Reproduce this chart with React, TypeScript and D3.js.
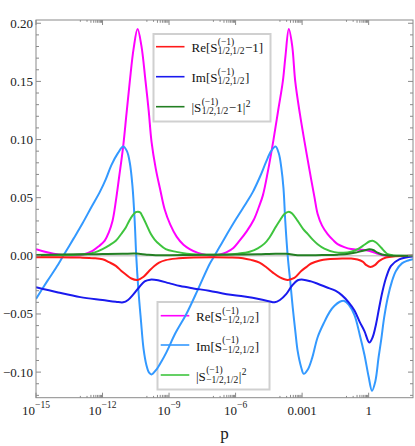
import React, { useRef, useEffect } from "react";
import * as d3 from "d3";

type Pt = [number, number]; // [log10 p, value]

// Re[S(-1)_{-1/2,1/2}]  (magenta)
const reMinus: Pt[] = [
  [-15, 0.0058], [-14.6, 0.0035], [-14.2, 0.0018], [-13.8, 0.0007], [-13.35, 0.0003],
  [-12.9, 0.001], [-12.45, 0.0043], [-12.15, 0.0085], [-11.9, 0.013], [-11.72, 0.02],
  [-11.55, 0.03], [-11.4, 0.047], [-11.25, 0.068], [-11.07, 0.094], [-10.92, 0.122],
  [-10.77, 0.15], [-10.6, 0.178], [-10.42, 0.195], [-10.25, 0.181], [-10.06, 0.15],
  [-9.92, 0.125], [-9.79, 0.098], [-9.6, 0.075], [-9.4, 0.057], [-9.2, 0.04],
  [-8.95, 0.027], [-8.66, 0.0165], [-8.35, 0.0095], [-8.07, 0.0058], [-7.7, 0.0025],
  [-7.32, 0.0008], [-7.03, 0.0002], [-6.7, 0.0012], [-6.42, 0.003], [-6.1, 0.0068],
  [-5.82, 0.013], [-5.5, 0.021], [-5.18, 0.031], [-4.95, 0.042], [-4.77, 0.052],
  [-4.55, 0.072], [-4.29, 0.1], [-4.08, 0.125], [-3.87, 0.15], [-3.75, 0.172],
  [-3.6, 0.195], [-3.45, 0.181], [-3.31, 0.15], [-3.1, 0.122], [-2.89, 0.098],
  [-2.66, 0.073], [-2.44, 0.05], [-2.3, 0.036], [-2.1, 0.026], [-1.85, 0.0187],
  [-1.6, 0.0135], [-1.4, 0.0101], [-1.1, 0.0075], [-0.79, 0.0058], [-0.45, 0.0052],
  [-0.19, 0.005], [0.05, 0.0042], [0.3, 0.0025], [0.6, 0.0008], [0.9, 0.0],
  [1.3, -0.0002], [2, 0.0],
];

// Im[S(-1)_{-1/2,1/2}]  (light blue)
const imMinus: Pt[] = [
  [-15, -0.037], [-14.5, -0.022], [-14, -0.0075], [-13.77, 0.0], [-13.3, 0.015],
  [-12.9, 0.028], [-12.5, 0.042], [-12.12, 0.055], [-11.85, 0.066], [-11.6, 0.078],
  [-11.3, 0.0885], [-11.07, 0.094], [-10.9, 0.09], [-10.77, 0.08], [-10.65, 0.06],
  [-10.55, 0.03], [-10.48, 0.0], [-10.38, -0.03], [-10.27, -0.055], [-10.15, -0.08],
  [-10.02, -0.094], [-9.9, -0.1005], [-9.79, -0.102], [-9.6, -0.0985], [-9.35, -0.091],
  [-9.12, -0.083], [-8.7, -0.066], [-8.22, -0.05], [-7.7, -0.029], [-7.17, -0.007],
  [-6.95, 0.0], [-6.5, 0.015], [-6.0, 0.031], [-5.5, 0.046], [-5.22, 0.055],
  [-4.9, 0.068], [-4.62, 0.081], [-4.4, 0.09], [-4.2, 0.094], [-4.05, 0.088],
  [-3.94, 0.076], [-3.84, 0.058], [-3.76, 0.03], [-3.65, 0.0], [-3.52, -0.025],
  [-3.42, -0.045], [-3.3, -0.066], [-3.2, -0.082], [-3.04, -0.096], [-2.93, -0.1015],
  [-2.75, -0.098], [-2.55, -0.088], [-2.3, -0.07], [-2.0, -0.057], [-1.75, -0.048],
  [-1.54, -0.043], [-1.3, -0.0395], [-1.1, -0.0388], [-0.9, -0.042], [-0.64, -0.051],
  [-0.4, -0.068], [-0.19, -0.085], [0.0, -0.104], [0.15, -0.116], [0.3, -0.108],
  [0.45, -0.087], [0.56, -0.073], [0.7, -0.053], [0.86, -0.036], [1.05, -0.022],
  [1.23, -0.013], [1.5, -0.0065], [1.75, -0.0042], [2, -0.003],
];

// |S(-1)_{-1/2,1/2}|^2  (light green)
const absMinus: Pt[] = [
  [-15, 0.0003], [-14, 0.0004], [-13.3, 0.0008], [-12.75, 0.0014], [-12.35, 0.003],
  [-12.0, 0.0058], [-11.7, 0.009], [-11.4, 0.013], [-11.15, 0.019], [-10.95, 0.0244],
  [-10.8, 0.03], [-10.65, 0.0345], [-10.5, 0.0375], [-10.4, 0.038], [-10.3, 0.0372],
  [-10.2, 0.034], [-10.0, 0.026], [-9.82, 0.0187], [-9.65, 0.014], [-9.45, 0.0101],
  [-9.15, 0.0058], [-8.67, 0.0034], [-8.2, 0.0018], [-7.62, 0.001], [-6.9, 0.0009],
  [-6.42, 0.001], [-5.9, 0.0018], [-5.37, 0.0035], [-5.0, 0.0065], [-4.7, 0.0105],
  [-4.47, 0.0158], [-4.2, 0.0245], [-4.02, 0.03], [-3.8, 0.036], [-3.6, 0.038],
  [-3.45, 0.0365], [-3.2, 0.03], [-2.95, 0.023], [-2.74, 0.0187], [-2.5, 0.0135],
  [-2.3, 0.01], [-2.0, 0.0062], [-1.54, 0.0032], [-1.15, 0.0026], [-0.79, 0.0035],
  [-0.45, 0.0062], [-0.19, 0.0095], [0.05, 0.0125], [0.18, 0.0129], [0.35, 0.0112],
  [0.56, 0.0072], [0.72, 0.0038], [0.86, 0.0015], [1.1, 0.0004], [1.5, 0.0], [2, 0.0],
];

// Re[S(-1)_{1/2,1/2} - 1]  (red)
const rePlus: Pt[] = [
  [-15, -0.0012], [-14, -0.0012], [-13, -0.0015], [-12.4, -0.002], [-12.0, -0.003],
  [-11.7, -0.0055], [-11.4, -0.0086], [-11.15, -0.013], [-10.95, -0.016], [-10.7, -0.0195],
  [-10.42, -0.0207], [-10.15, -0.018], [-9.9, -0.013], [-9.65, -0.0085], [-9.45, -0.0058],
  [-9.15, -0.0037], [-8.7, -0.0024], [-7.9, -0.0015], [-7.0, -0.0012], [-6.3, -0.0014],
  [-5.67, -0.002], [-5.3, -0.0035], [-4.92, -0.0058], [-4.6, -0.01], [-4.32, -0.0144],
  [-4.0, -0.0185], [-3.65, -0.0207], [-3.35, -0.019], [-3.04, -0.013], [-2.8, -0.0095],
  [-2.59, -0.0066], [-2.2, -0.004], [-1.85, -0.0029], [-1.2, -0.0023], [-0.79, -0.0023],
  [-0.5, -0.0032], [-0.27, -0.005], [-0.1, -0.008], [0.08, -0.0095], [0.28, -0.008],
  [0.48, -0.0043], [0.78, -0.0014], [1.2, -0.0004], [2, 0.0],
];

// Im[S(-1)_{1/2,1/2}]  (blue)
const imPlus: Pt[] = [
  [-15, -0.027], [-14, -0.0315], [-13, -0.0355], [-12, -0.038], [-11.4, -0.0395],
  [-11.07, -0.04], [-10.85, -0.038], [-10.6, -0.033], [-10.35, -0.027], [-10.1, -0.022],
  [-9.85, -0.0205], [-9.5, -0.021], [-9.0, -0.0235], [-8.5, -0.026], [-7.9, -0.028],
  [-7.2, -0.03], [-6.4, -0.033], [-5.6, -0.035], [-4.9, -0.0373], [-4.5, -0.039],
  [-4.24, -0.04], [-4.0, -0.038], [-3.72, -0.033], [-3.45, -0.0255], [-3.2, -0.021],
  [-2.95, -0.0205], [-2.6, -0.022], [-2.3, -0.024], [-1.9, -0.027], [-1.5, -0.03],
  [-1.2, -0.034], [-0.9, -0.04], [-0.64, -0.047], [-0.4, -0.057], [-0.19, -0.0647],
  [0.03, -0.0745], [0.18, -0.07], [0.33, -0.059], [0.48, -0.044], [0.63, -0.03],
  [0.8, -0.018], [1.01, -0.0086], [1.38, -0.003], [2, -0.0006],
];

// |S(-1)_{1/2,1/2} - 1|^2  (dark green)
const absPlus: Pt[] = [
  [-15, 0.0008], [-13, 0.0013], [-12, 0.0015], [-11.1, 0.0017], [-10.5, 0.0019],
  [-10.0, 0.001], [-9.6, 0.0005], [-9.0, 0.0006], [-8.0, 0.0008], [-7.0, 0.0009],
  [-6.0, 0.0011], [-5.0, 0.0014], [-4.2, 0.0018], [-3.7, 0.0017], [-3.2, 0.0006],
  [-2.6, 0.0005], [-2.0, 0.0007], [-1.4, 0.001], [-0.9, 0.0017], [-0.5, 0.0032],
  [-0.2, 0.0045], [0.03, 0.0056], [0.2, 0.005], [0.4, 0.0027], [0.6, 0.0011],
  [0.9, 0.0002], [1.5, 0.0], [2, 0.0],
];

const yTicks = [-0.1, -0.05, 0, 0.05, 0.1, 0.15, 0.2];
const yTickLabels = ["\u22120.10", "\u22120.05", "0.00", "0.05", "0.10", "0.15", "0.20"];
const xTickExps = [-15, -12, -9, -6, -3, 0];
const xTickLabels = [
  { base: "10", sup: "\u221215" },
  { base: "10", sup: "\u221212" },
  { base: "10", sup: "\u22129" },
  { base: "10", sup: "\u22126" },
  { base: "0.001", sup: "" },
  { base: "1", sup: "" },
];

const MAGENTA = "#ff00ff";
const LIGHTBLUE = "#3399ff";
const LIGHTGREEN = "#3ec43e";
const RED = "#ff1a1a";
const BLUE = "#1a1aee";
const DARKGREEN = "#237f23";

const topLegend = [
  { color: RED, pre: "Re[S", sup: "(\u22121)", sub: "1/2,1/2", post: "\u22121]", pow: "" },
  { color: BLUE, pre: "Im[S", sup: "(\u22121)", sub: "1/2,1/2", post: "]", pow: "" },
  { color: DARKGREEN, pre: "|S", sup: "(\u22121)", sub: "1/2,1/2", post: "\u22121|", pow: "2" },
];
const bottomLegend = [
  { color: MAGENTA, pre: "Re[S", sup: "(\u22121)", sub: "\u22121/2,1/2", post: "]", pow: "" },
  { color: LIGHTBLUE, pre: "Im[S", sup: "(\u22121)", sub: "\u22121/2,1/2", post: "]", pow: "" },
  { color: LIGHTGREEN, pre: "|S", sup: "(\u22121)", sub: "\u22121/2,1/2", post: "|", pow: "2" },
];

const series = [
  { data: reMinus, color: MAGENTA },
  { data: imMinus, color: LIGHTBLUE },
  { data: absMinus, color: LIGHTGREEN },
  { data: rePlus, color: RED },
  { data: imPlus, color: BLUE },
  { data: absPlus, color: DARKGREEN },
];

const FONT = "'Liberation Serif', 'Times New Roman', serif";

const App = () => {
  const svgRef = useRef<SVGSVGElement>(null);

  useEffect(() => {
    const svg = d3.select(svgRef.current);
    svg.selectAll("*").remove();

    const width = 415;
    const height = 446;
    const left = 36, right = 413, top = 20, bottom = 397.7;

    const x = d3.scaleLog().domain([1e-15, 1e2]).range([left, right]);
    const y = d3.scaleLinear().domain([-0.122, 0.2028]).range([bottom, top]);

    svg.attr("width", width).attr("height", height).style("font-family", FONT);

    svg.append("defs").append("clipPath").attr("id", "plot-clip")
      .append("rect").attr("x", left).attr("y", top)
      .attr("width", right - left).attr("height", bottom - top);

    // zero axis line
    svg.append("line")
      .attr("x1", left).attr("x2", right)
      .attr("y1", y(0)).attr("y2", y(0))
      .attr("stroke", "#cccccc").attr("stroke-width", 1.5);

    // legends (drawn under the curves)
    const drawLegend = (entries, box, lineX, rows, textX) => {
      const g = svg.append("g");
      g.append("rect")
        .attr("x", box[0]).attr("y", box[1])
        .attr("width", box[2] - box[0]).attr("height", box[3] - box[1])
        .attr("fill", "white").attr("stroke", "#d0d0d0").attr("stroke-width", 2);
      entries.forEach((e, i) => {
        const ry = rows[i];
        g.append("line")
          .attr("x1", lineX[0]).attr("x2", lineX[1])
          .attr("y1", ry).attr("y2", ry)
          .attr("stroke", e.color).attr("stroke-width", 1.6);
        const base = ry + 5.5;
        let cx = textX;
        const t1 = g.append("text").attr("x", cx).attr("y", base)
          .attr("font-size", 13).attr("fill", "#111").text(e.pre);
        cx += (t1.node() as SVGTextElement).getComputedTextLength();
        const sp = g.append("text").attr("x", cx + 0.3).attr("y", base - 7.5)
          .attr("font-size", 9.5).attr("fill", "#111").text(e.sup);
        const sb = g.append("text").attr("x", cx + 0.3).attr("y", base + 2)
          .attr("font-size", 9.5).attr("fill", "#111").text(e.sub);
        cx += Math.max(
          (sp.node() as SVGTextElement).getComputedTextLength(),
          (sb.node() as SVGTextElement).getComputedTextLength()
        ) + 0.8;
        const t2 = g.append("text").attr("x", cx).attr("y", base)
          .attr("font-size", 13).attr("fill", "#111").text(e.post);
        cx += (t2.node() as SVGTextElement).getComputedTextLength();
        if (e.pow) {
          g.append("text").attr("x", cx + 0.5).attr("y", base - 5.5)
            .attr("font-size", 9.5).attr("fill", "#111").text(e.pow);
        }
      });
    };

    drawLegend(topLegend, [153.5, 34, 270.5, 121.5], [156, 184.5], [46.7, 76.7, 106.7], 191.5);
    drawLegend(bottomLegend, [157.5, 302, 269.5, 389.5], [160.7, 189.3], [315.7, 345, 375], 196);

    // curves
    const line = d3.line<Pt>()
      .x((d) => x(Math.pow(10, d[0])))
      .y((d) => y(d[1]))
      .curve(d3.curveCatmullRom.alpha(0.5));

    const curves = svg.append("g").attr("clip-path", "url(#plot-clip)");
    series.forEach((s) => {
      curves.append("path")
        .datum(s.data)
        .attr("d", line)
        .attr("fill", "none")
        .attr("stroke", s.color)
        .attr("stroke-width", 2)
        .attr("stroke-linejoin", "round");
    });

    // frame
    const frameColor = "#8a8a8a";
    svg.append("rect")
      .attr("x", left).attr("y", top)
      .attr("width", right - left).attr("height", bottom - top)
      .attr("fill", "none").attr("stroke", frameColor).attr("stroke-width", 1);

    const ticks = svg.append("g").attr("stroke", frameColor).attr("stroke-width", 1);

    // y ticks, left and right, pointing inward
    const yMinor = d3.range(-12, 21).map((k) => k / 100);
    yMinor.forEach((v) => {
      const major = Math.abs(Math.round(v * 100) % 5) === 0;
      const len = major ? 5 : 3;
      ticks.append("line").attr("x1", left).attr("x2", left + len)
        .attr("y1", y(v)).attr("y2", y(v));
      ticks.append("line").attr("x1", right).attr("x2", right - len)
        .attr("y1", y(v)).attr("y2", y(v));
    });

    // x ticks, bottom and top
    xTickExps.forEach((k) => {
      const px = x(Math.pow(10, k));
      ticks.append("line").attr("x1", px).attr("x2", px).attr("y1", bottom).attr("y2", bottom - 5);
      ticks.append("line").attr("x1", px).attr("x2", px).attr("y1", top).attr("y2", top + 5);
      d3.range(1, 10).forEach((m) => {
        const v = m * Math.pow(10, k - 1);
        if (v < 1e-15) return;
        const mx = x(v);
        const len = m >= 3 ? 2.8 : 1.8;
        ticks.append("line").attr("x1", mx).attr("x2", mx).attr("y1", bottom).attr("y2", bottom - len);
        ticks.append("line").attr("x1", mx).attr("x2", mx).attr("y1", top).attr("y2", top + len);
      });
    });

    // y tick labels
    yTicks.forEach((v, i) => {
      svg.append("text")
        .attr("x", 33).attr("y", y(v) + 4.5)
        .attr("text-anchor", "end")
        .attr("font-size", 13).attr("fill", "#222")
        .text(yTickLabels[i]);
    });

    // x tick labels
    xTickExps.forEach((k, i) => {
      const px = x(Math.pow(10, k));
      const lab = xTickLabels[i];
      const t = svg.append("text")
        .attr("x", px).attr("y", 414.5)
        .attr("font-size", 13).attr("fill", "#222");
      t.append("tspan").text(lab.base);
      if (lab.sup) {
        t.append("tspan").attr("font-size", 9.5).attr("dy", -6.5).text(lab.sup);
      }
      const w = (t.node() as SVGTextElement).getComputedTextLength();
      t.attr("x", px - w / 2);
    });

    // axis label
    svg.append("text")
      .attr("x", 224.5).attr("y", 438.5)
      .attr("text-anchor", "middle")
      .attr("font-size", 17).attr("fill", "#222")
      .text("p");
  }, []);

  return (
    <div style={{ position: "absolute", left: 0, top: 0 }}>
      <svg ref={svgRef} width={415} height={446}></svg>
    </div>
  );
};

export default App;
